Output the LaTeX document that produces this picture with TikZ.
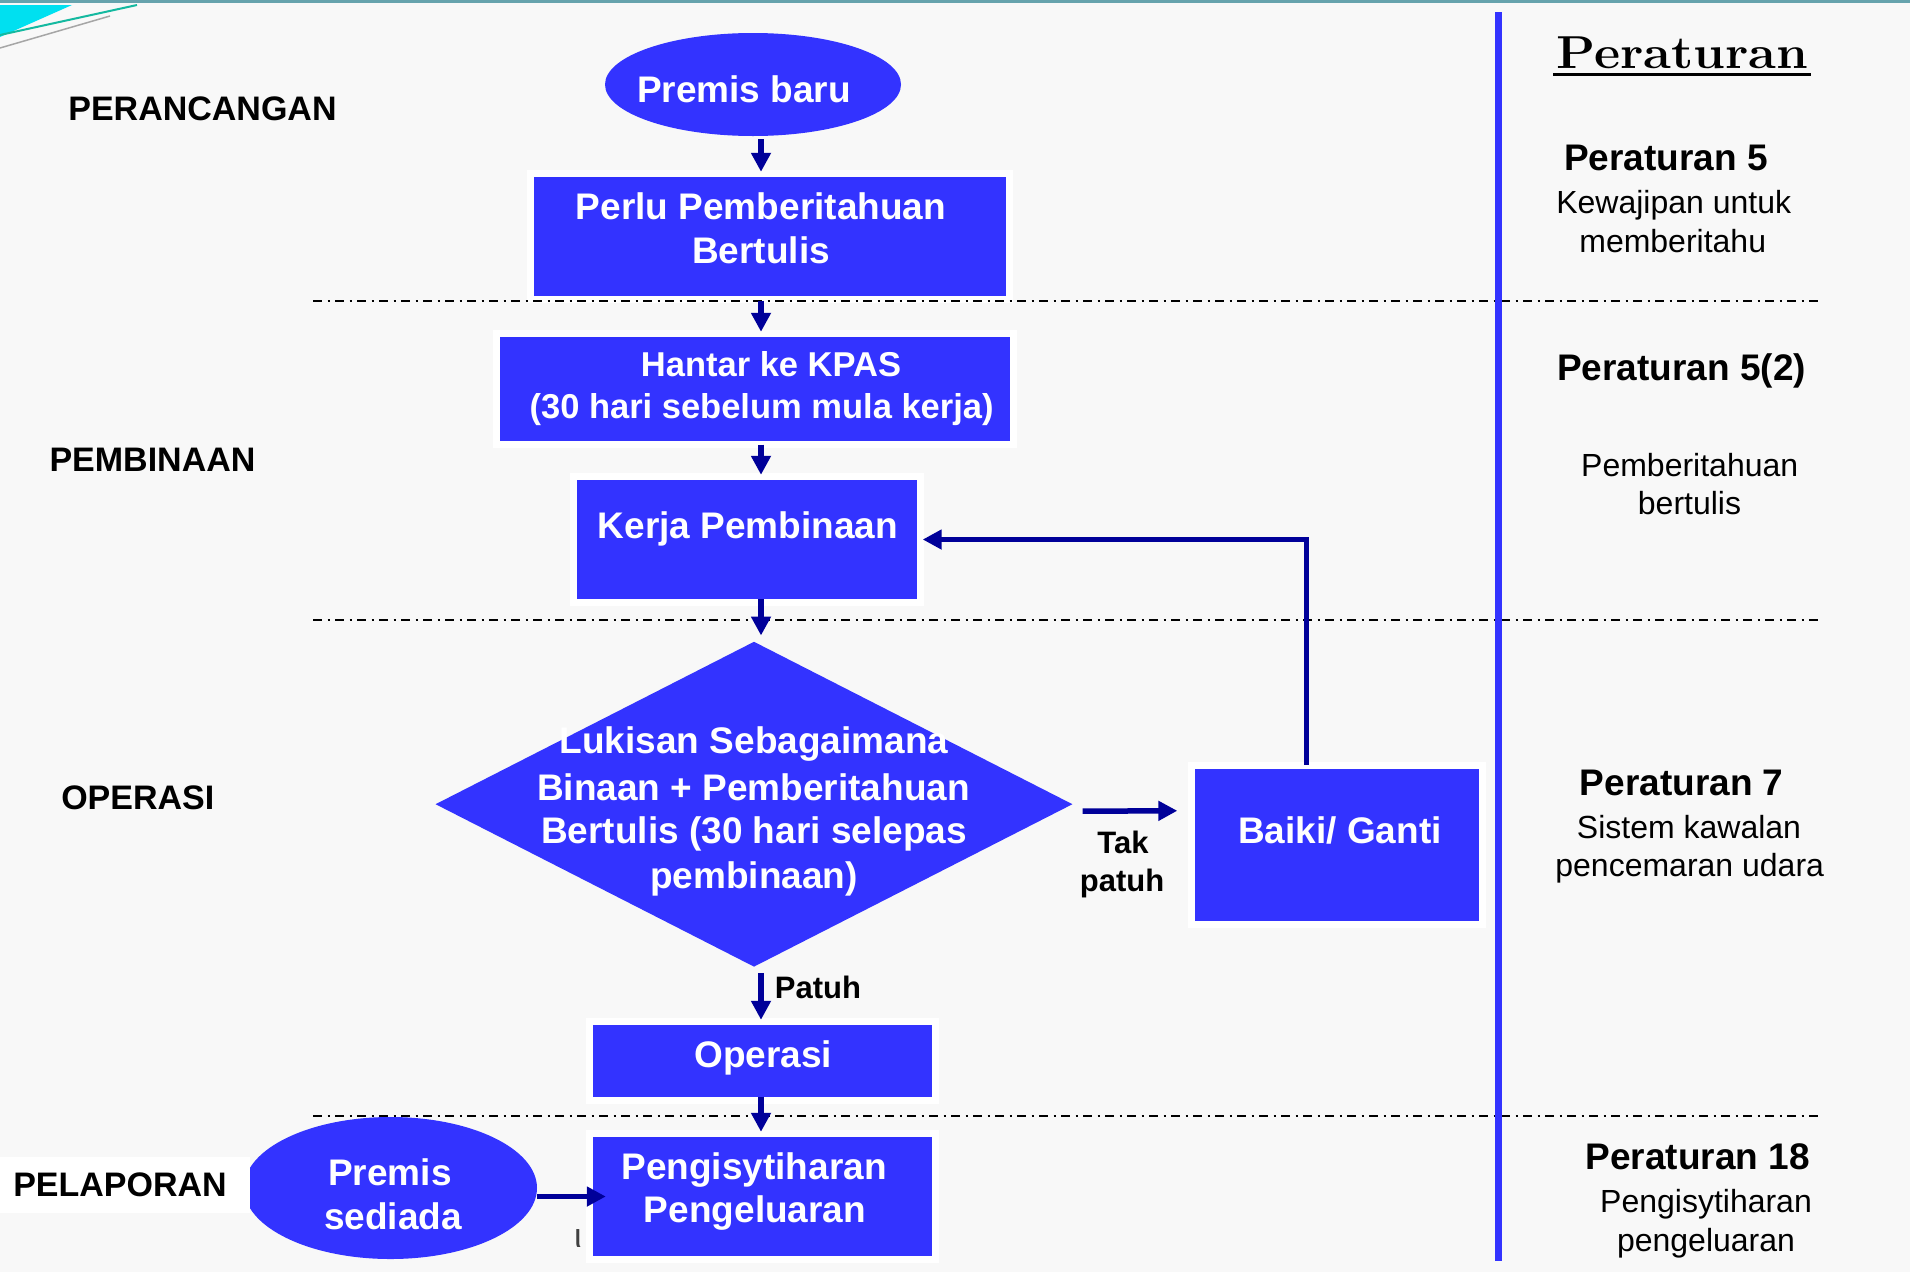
\documentclass[tikz,border=0pt]{standalone}
\usepackage{fontspec}
\usepackage{graphicx}
\newfontfamily\arial{Liberation Sans}
\usetikzlibrary{arrows.meta,shapes.geometric,calc}

\definecolor{boxblue}{RGB}{51,51,255}
\definecolor{navy}{RGB}{0,0,153}
\definecolor{paper}{RGB}{248,248,248}
\definecolor{toprule}{RGB}{102,163,173}
\definecolor{cornercyan}{RGB}{0,224,240}
\definecolor{cornerteal}{RGB}{20,185,160}

\tikzset{
  boxstyle/.style={rectangle, fill=boxblue, draw=none, inner sep=0pt,
    preaction={draw=white, line width=14pt}},
  blob/.style={ellipse, fill=boxblue, draw=none, inner sep=0pt},
  boxtext/.style={text=white, font=\arial\bfseries\fontsize{37}{44}\selectfont,
    inner sep=0pt, text height=26.6pt, text depth=0pt},
  kpastext/.style={boxtext, font=\arial\bfseries\fontsize{34.5}{41}\selectfont,
    text height=24.7pt},
  phase/.style={text=black, font=\arial\bfseries\fontsize{34}{41}\selectfont,
    inner sep=0pt, text height=24.3pt, text depth=0pt},
  regtitle/.style={text=black, font=\arial\bfseries\fontsize{37}{44}\selectfont,
    inner sep=0pt, text height=26.6pt, text depth=0pt},
  regnote/.style={text=black, font=\arial\fontsize{32}{38}\selectfont,
    inner sep=0pt, text height=22.9pt, text depth=0pt},
  edgelabel/.style={text=black, font=\arial\bfseries\fontsize{31}{37}\selectfont,
    inner sep=0pt, text height=22.2pt, text depth=0pt},
  flow/.style={draw=navy, line width=5.5pt,
    -{Triangle[length=19pt,width=19pt]}},
  phaseline/.style={draw=black, line width=2pt,
    dash pattern=on 9pt off 5.5pt on 2pt off 5.5pt},
}

\begin{document}
\begin{tikzpicture}[x=1pt,y=-1pt]
  % page
  \fill[paper] (0,0) rectangle (1910,1272);
  \path[use as bounding box] (0,0) rectangle (1910,1272);

  % top rule and corner ornament
  \draw[toprule, line width=3pt] (0,1.5) -- (1910,1.5);
  \fill[cornercyan] (0,5) -- (72,5) -- (0,37) -- cycle;
  \draw[cornerteal, line width=2pt] (0,35) -- (137,5);
  \draw[gray!70, line width=1.5pt] (0,48) -- (110,16);

  % flowchart shapes
  \node[blob, minimum width=296pt, minimum height=103pt] (pbaru) at (753,84.5) {};
  \node[boxstyle, minimum width=472pt, minimum height=119pt] (perlu) at (770,236.5) {};
  \node[boxstyle, minimum width=510pt, minimum height=104pt] (hantar) at (755,388.5) {};
  \node[boxstyle, minimum width=339.5pt, minimum height=119pt] (kerja) at (746.75,539.5) {};
  \node[diamond, fill=boxblue, inner sep=0pt, minimum width=637pt,
        minimum height=325pt] (dia) at (754,804.2) {};
  \node[boxstyle, minimum width=284pt, minimum height=151.5pt] (baiki) at (1337,844.75) {};
  \node[boxstyle, minimum width=339.5pt, minimum height=71.5pt] (operasi) at (762.25,1060.75) {};
  \node[boxstyle, minimum width=339pt, minimum height=119pt] (peng) at (762.5,1196.5) {};
  \node[blob, minimum width=293pt, minimum height=142pt] (sediada) at (390.5,1188) {};

  % white panel behind the last phase label
  \fill[white] (0,1157) rectangle (250,1213);

  % texts inside the shapes
  \node[boxtext] (pbarut) at (744,89) {Premis baru};
  \node[boxtext] (perlut1) at (761,206) {Perlu Pemberitahuan};
  \node[boxtext] (perlut2) at (761,250) {Bertulis};
  \node[kpastext] (hantart1) at (771,364) {Hantar ke KPAS};
  \node[kpastext] (hantart2) at (761.6,406) {(30 hari sebelum mula kerja)};
  \node[boxtext] (kerjat) at (748,525) {Kerja Pembinaan};
  \node[boxtext] (diat1) at (754,740) {Lukisan Sebagaimana};
  \node[boxtext] (diat2) at (753.5,786.7) {Binaan + Pemberitahuan};
  \node[boxtext] (diat3) at (754,830) {Bertulis (30 hari selepas};
  \node[boxtext] (diat4) at (754,875) {pembinaan)};
  \node[boxtext] (baikit) at (1340,829.7) {Baiki/ Ganti};
  \node[boxtext] (operasit) at (763.3,1054.5) {Operasi};
  \node[boxtext] (pengt1) at (754,1166) {Pengisytiharan};
  \node[boxtext] (pengt2) at (755,1209.5) {Pengeluaran};
  \node[boxtext] (sediadat1) at (390,1171.7) {Premis};
  \node[boxtext] (sediadat2) at (393,1216) {sediada};
  \node[text=black!75, font=\arial\fontsize{34}{34}\selectfont, inner sep=0pt]
       (tick) at (578,1238) {ι};

  % phase labels
  \node[phase] (ph1) at (202.5,108.7) {PERANCANGAN};
  \node[phase] (ph2) at (152.5,459.2) {PEMBINAAN};
  \node[phase] (ph3) at (137.8,797.5) {OPERASI};
  \node[phase] (ph4) at (120,1184) {PELAPORAN};

  % phase separators
  \draw[phaseline] (313,300.5) -- (1818,300.5);
  \draw[phaseline] (313,620) -- (1818,620);
  \draw[phaseline] (313,1116) -- (1818,1116);

  % regulation column
  \draw[boxblue, line width=7pt] (1498.5,12) -- (1498.5,1261);
  \node[font=\bfseries\fontsize{46.2}{55}\selectfont, inner sep=0pt,
        text height=31.7pt, text depth=0pt] (hdr) at (1682.5,52.5)
        {\scalebox{1.1}[1]{Peraturan}};
  \draw[black, line width=3.3pt] (1553,74.3) -- (1811,74.3);

  \node[regtitle] (r5) at (1666,157) {Peraturan 5};
  \node[regnote] (r5a) at (1673.7,202) {Kewajipan untuk};
  \node[regnote] (r5b) at (1672.7,241) {memberitahu};
  \node[regtitle] (r52) at (1681.7,366.7) {Peraturan 5(2)};
  \node[regnote] (r52a) at (1689.7,465) {Pemberitahuan};
  \node[regnote] (r52b) at (1689.5,503) {bertulis};
  \node[regtitle] (r7) at (1681.7,782) {Peraturan 7};
  \node[regnote] (r7a) at (1689,827) {Sistem kawalan};
  \node[regnote] (r7b) at (1689.7,865) {pencemaran udara};
  \node[regtitle] (r18) at (1697.7,1156) {Peraturan 18};
  \node[regnote] (r18a) at (1706,1201) {Pengisytiharan};
  \node[regnote] (r18b) at (1706,1240) {pengeluaran};

  % connectors
  \coordinate (xc) at (761,0);
  \coordinate (fbx) at (1306,0);
  \coordinate (yr) at (0,1196.5);
  \draw[flow, shorten <=3pt, shorten >=5pt] (pbaru.south -| xc) -- (perlu.north -| xc);
  \draw[flow, shorten <=4.5pt, shorten >=4.5pt] (perlu.south -| xc) -- (hantar.north -| xc);
  \draw[flow, shorten <=4pt, shorten >=5pt] (hantar.south -| xc) -- (kerja.north -| xc);
  \draw[flow, shorten >=6pt] (kerja.south -| xc) -- (dia.north -| xc);
  \draw[flow, shorten <=6pt, shorten >=5pt] (dia.south -| xc) -- (operasi.north -| xc);
  \draw[flow, shorten >=5pt] (operasi.south -| xc) -- (peng.north -| xc);
  \draw[flow, shorten >=-13pt] (sediada.east |- yr) -- (peng.west |- yr);
  \draw[flow] ($(dia.east)+(10,7)$) -- ($(baiki.west)+(-17.5,-34)$);
  \draw[flow, line width=5pt, shorten <=4pt, shorten >=6pt]
       (baiki.north -| fbx) |- (kerja.east);

  % connector labels
  \node[edgelabel] (patuh) at (818,987) {Patuh};
  \node[edgelabel] (tak1) at (1123,842.5) {Tak};
  \node[edgelabel] (tak2) at (1122,880.5) {patuh};
\end{tikzpicture}
\end{document}
